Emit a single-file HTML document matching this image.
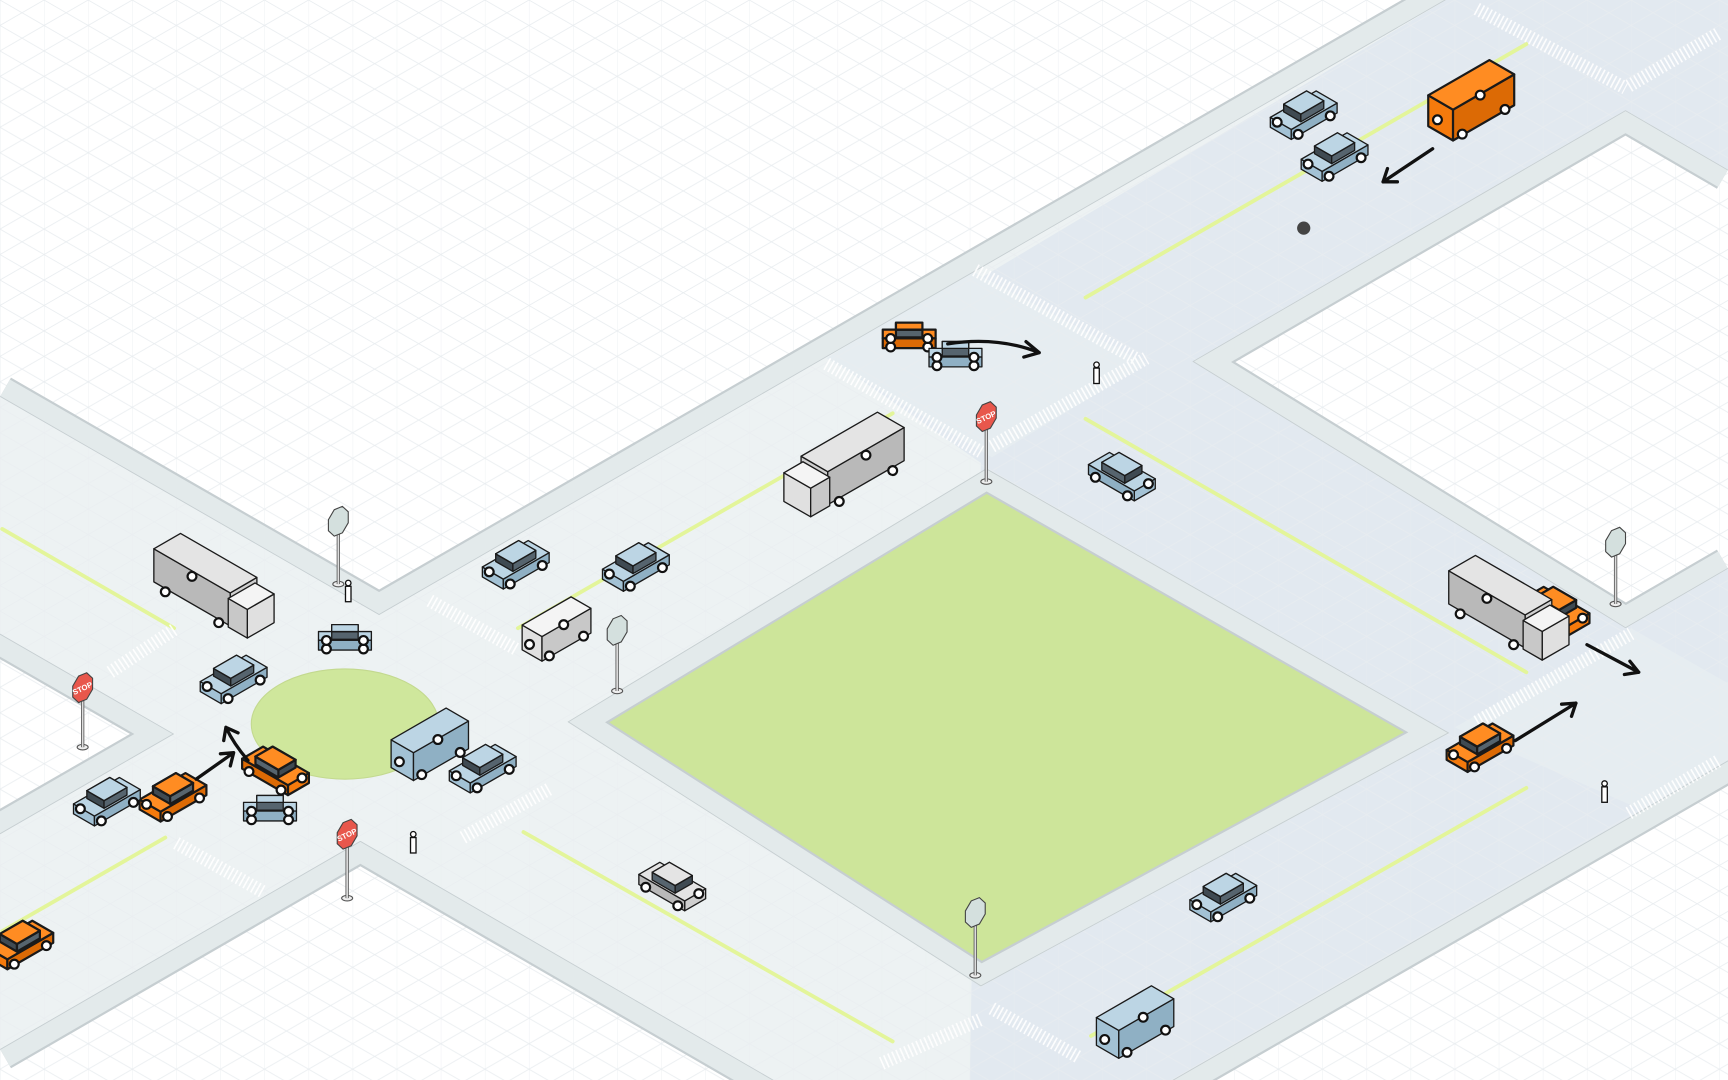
<!DOCTYPE html>
<html><head><meta charset="utf-8"><style>
html,body{margin:0;padding:0;background:#fff;overflow:hidden;width:1728px;height:1080px}
svg{display:block;overflow:hidden}
text{font-family:"Liberation Sans",sans-serif}
</style></head><body>
<svg id="s" width="1728" height="1080" viewBox="0 0 1568 980" preserveAspectRatio="none" xmlns="http://www.w3.org/2000/svg">
<defs>
<pattern id="grid" width="40" height="46.2" patternUnits="userSpaceOnUse">
<path d="M0 0 L40 23.1 M0 23.1 L40 46.2 M0 23.1 L40 0 M0 46.2 L40 23.1 M0 -23.1 L40 0 M0 0V46.2" stroke="#e9edf0" stroke-width="0.7" fill="none"/>
</pattern>
<clipPath id="c1"><polygon points="0,0 1312,0 344,558 0,360"/></clipPath>
<clipPath id="c2"><polygon points="0,575 158,666 0,757"/></clipPath>
<clipPath id="c3"><polygon points="0,952 327,763 702,980 0,980"/></clipPath>
<clipPath id="c4"><polygon points="515,655 895,425 1315,665 890,895"/></clipPath>
<clipPath id="c5"><polygon points="1082,328 1475,100 1568,154 1568,516 1475,570"/></clipPath>
<clipPath id="c6"><polygon points="1064,980 1490,735 1568,690 1568,980"/></clipPath>
<clipPath id="frame"><rect width="1568" height="980"/></clipPath>
</defs>
<g clip-path="url(#frame)">
<rect width="1568" height="980" fill="#edf2f3"/>
<polygon points="760,330 1312,0 1568,0 1568,980 880,980 890,420" fill="#e2e9f0"/>
<polygon points="750,325 880,245 1040,330 900,415" fill="#e6edf1"/>
<polygon points="1320,660 1480,570 1568,620 1568,690 1490,735" fill="#e6edf1"/>
<rect width="1568" height="980" fill="url(#grid)" opacity="0.8"/>
<g id="blocks"></g>
<g fill="none" stroke="#e3f59a" stroke-width="3.5" stroke-linecap="round">
<line x1="470" y1="570" x2="810" y2="375"/>
<line x1="985" y1="270" x2="1385" y2="40"/>
<line x1="2" y1="480" x2="158" y2="570"/>
<line x1="475" y1="755" x2="810" y2="945"/>
<line x1="985" y1="380" x2="1385" y2="610"/>
<line x1="990" y1="940" x2="1385" y2="715"/>
<line x1="2" y1="845" x2="150" y2="760"/>
</g>
<g fill="none" stroke="#ffffff" stroke-width="12" stroke-dasharray="1.5 2.5" opacity="0.9">
<line x1="750" y1="330" x2="890" y2="410"/>
<line x1="885" y1="245" x2="1030" y2="325"/>
<line x1="900" y1="405" x2="1040" y2="325"/>
<line x1="1340" y1="655" x2="1480" y2="575"/>
<line x1="1478" y1="738" x2="1560" y2="690"/>
<line x1="1340" y1="8" x2="1475" y2="80"/>
<line x1="1478" y1="78" x2="1560" y2="30"/>
<line x1="390" y1="545" x2="470" y2="590"/>
<line x1="100" y1="610" x2="160" y2="570"/>
<line x1="160" y1="765" x2="240" y2="810"/>
<line x1="420" y1="760" x2="500" y2="715"/>
<line x1="800" y1="965" x2="890" y2="925"/>
<line x1="900" y1="915" x2="980" y2="960"/>
</g>
<ellipse cx="313" cy="657" rx="85" ry="50" fill="#cfe79c" stroke="#c3d98f" stroke-width="1"/>
<circle cx="1183" cy="207" r="6" fill="#444"/>
<g id="objs"></g>
<g fill="none" stroke="#111" stroke-width="3" stroke-linecap="round" stroke-linejoin="round">
<path d="M1300 135 L1255 165 M1255 165 l4 -12 M1255 165 l13 0"/>
<path d="M860 312 Q905 305 943 320 M943 320 l-12 -10 M943 320 l-14 4"/>
<path d="M1440 585 L1487 610 M1487 610 l-8 -10 M1487 610 l-13 2"/>
<path d="M1375 672 L1430 638 M1430 638 l-13 1 M1430 638 l-4 12"/>
<path d="M178 707 L212 683 M212 683 l-12 1 M212 683 l-3 12"/>
<path d="M225 690 Q212 675 205 660 M205 660 l-2 12 M205 660 l11 5"/>
</g>
<g id="signs"></g>
<g id="stoptext" font-size="7" font-weight="bold" fill="#fff" text-anchor="middle">
<text x="895" y="381" transform="rotate(-25 895 379)">STOP</text>
<text x="75" y="627" transform="rotate(-25 75 625)">STOP</text>
<text x="315" y="760" transform="rotate(-25 315 758)">STOP</text>
</g>
</g>
</svg>
<script>
var NS="http://www.w3.org/2000/svg";
function el(t,a,p){var e=document.createElementNS(NS,t);for(var k in a)e.setAttribute(k,a[k]);(p||document.getElementById('objs')).appendChild(e);return e;}
var B=document.getElementById('blocks');
var polys=[
["0,0 1312,0 344,558 0,360","1312,0 344,558 0,360","c1","#fff"],
["0,575 158,666 0,757","0,575 158,666 0,757","c2","#fff"],
["0,952 327,763 702,980 0,980","0,952 327,763 702,980","c3","#fff"],
["515,655 895,425 1315,665 890,895","515,655 895,425 1315,665 890,895 515,655","c4","#cde59a"],
["1082,328 1475,100 1568,154 1568,516 1475,570","1568,154 1475,100 1082,328 1475,570 1568,516","c5","#fff"],
["1064,980 1490,735 1568,690 1568,980","1064,980 1490,735 1568,690","c6","#fff"]];
polys.forEach(function(p){var g=el('g',{'clip-path':'url(#'+p[2]+')'},B);
el('polygon',{points:p[0],fill:p[3],stroke:'none'},g);
if(p[3]=='#fff')el('polygon',{points:p[0],fill:'url(#grid)',stroke:'none'},g);
el('polyline',{points:p[1],fill:'none',stroke:'#c6ced1','stroke-width':40,'stroke-linejoin':'round'},g);
el('polyline',{points:p[1],fill:'none',stroke:'#e3eaeb','stroke-width':36,'stroke-linejoin':'round'},g);
el('polyline',{points:p[1],fill:'none',stroke:'#c6ced1','stroke-width':1.5},g);
});
var DIR={ne:[[0.866,-0.5],[0.866,0.5]],nw:[[0.866,0.5],[-0.866,0.5]],x:[[1,0],[0,0.35]]};
function pts(a){return a.map(function(p){return p[0].toFixed(1)+','+p[1].toFixed(1)}).join(' ')}
function box(cx,cy,l,w,h,z,d,cols,sw,parent){
 var A=DIR[d][0],Bv=DIR[d][1];
 function c(s,t,zz){return [cx+s*l*A[0]+t*w*Bv[0], cy+s*l*A[1]+t*w*Bv[1]-zz];}
 var faces=[[[1,0],[[1,-1],[1,1]]],[[-1,0],[[-1,1],[-1,-1]]],[[0,1],[[1,1],[-1,1]]],[[0,-1],[[-1,-1],[1,-1]]]];
 faces.forEach(function(f,i){var n=f[0];var ny=n[0]*A[1]+n[1]*Bv[1];if(ny>0.01||(ny>-0.01&&n[1]>0)){var p=f[1];
  el('polygon',{points:pts([c(p[0][0],p[0][1],z),c(p[1][0],p[1][1],z),c(p[1][0],p[1][1],z+h),c(p[0][0],p[0][1],z+h)]),fill:(n[0]!=0?cols[1]:cols[2]),stroke:'#1a1a1a','stroke-width':sw,'stroke-linejoin':'round'},parent);}});
 el('polygon',{points:pts([c(-1,-1,z+h),c(1,-1,z+h),c(1,1,z+h),c(-1,1,z+h)]),fill:cols[0],stroke:'#1a1a1a','stroke-width':sw,'stroke-linejoin':'round'},parent);
 return c;
}
var PAL={blue:['#bcd5e4','#a3c2d5','#8fb0c4'],orange:['#ff8c22','#f57a0c','#dc6a05'],white:['#f4f4f4','#e0e0e0','#c8c8c8'],grey:['#e4e4e4','#cfcfcf','#b9b9b9']};
function wheels(c,g){[[-0.7,1],[0.7,1],[-0.7,-1],[0.7,-1]].forEach(function(q){var p=c(q[0],q[1],0);el('circle',{cx:p[0],cy:p[1]-3,r:4,fill:'#fff',stroke:'#111','stroke-width':2},g);});}
function car(x,y,d,col){var g=el('g',{});var sw=col=='orange'?2:1.2;var c=box(x,y+6,24,11,9,2,d,PAL[col],sw,g);wheels(c,g);
 box(x,y+6,12,9,7,11,d,['#5d6b75','#3f4a52','#56646e'],sw,g);
 box(x,y+6,12,9,0.01,18,d,[PAL[col][0],PAL[col][0],PAL[col][0]],sw,g);}
function van(x,y,d,col,s){s=s||1;var g=el('g',{});var sw=col=='orange'?2:1.2;var c=box(x,y+12,32*s,13*s,28*s,2,d,PAL[col],sw,g);wheels(c,g);}
function truck(x,y,d,flip){var g=el('g',{});var A=DIR[d][0];var f=flip?-1:1;
 var c=box(x-f*10*A[0],y+12-f*10*A[1],40,14,30,6,d,PAL.grey,1.2,g);wheels(c,g);
 box(x+f*38*A[0],y+12+f*38*A[1],10,14,26,4,d,PAL.white,1.2,g);}
var list=[
['car',1183,105,'ne','blue'],['car',1211,143,'ne','blue'],['van',1335,95,'ne','orange'],
['car',825,308,'x','orange'],['car',867,325,'x','blue'],['car',1018,433,'nw','blue'],
['truck',765,430,'ne',1],['car',468,513,'ne','blue'],['car',577,515,'ne','blue'],
['truck',195,540,'nw',0],['car',313,582,'x','blue'],['car',212,617,'ne','blue'],
['van',505,572,'ne','white',0.8],['car',97,728,'ne','blue'],['car',157,724,'ne','orange'],
['car',250,700,'nw','orange'],['car',245,737,'x','blue'],['van',390,678,'ne','blue',0.9],
['car',438,698,'ne','blue'],['car',610,805,'nw','grey'],['car',1110,815,'ne','blue'],
['van',1030,930,'ne','blue',0.9],['car',1343,679,'ne','orange'],['car',1412,555,'nw','orange'],
['truck',1370,560,'nw',0],['car',18,858,'ne','orange']];
list.sort(function(a,b){return a[2]-b[2]});
list.forEach(function(o){if(o[0]=='car')car(o[1],o[2],o[3],o[4]);else if(o[0]=='van')van(o[1],o[2],o[3],o[4],o[5]);else truck(o[1],o[2],o[3],o[4]);});
var S=document.getElementById('signs');
function pole(x,y1,y2){el('ellipse',{cx:x,cy:y2,rx:5,ry:2.5,fill:'#eee',stroke:'#555','stroke-width':1},S);el('line',{x1:x,y1:y1,x2:x,y2:y2,stroke:'#555','stroke-width':3},S);el('line',{x1:x,y1:y1,x2:x,y2:y2,stroke:'#ddd','stroke-width':1.5},S);}
function oct(x,y,r,fill){var p=[];for(var i=0;i<8;i++){var a=Math.PI/8+i*Math.PI/4;p.push([x+r*0.75*Math.cos(a),y+r*Math.sin(a)-0.3*r*Math.cos(a)]);}el('polygon',{points:pts(p),fill:fill,stroke:'#444','stroke-width':1},S);}
[[895,378,437,'#e8574c'],[75,624,678,'#e8574c'],[315,757,815,'#e8574c'],[307,473,530,'#d4e0de'],[560,572,627,'#d4e0de'],[1466,492,548,'#d4e0de'],[885,828,885,'#d4e0de']].forEach(function(s){pole(s[0],s[1],s[2]);oct(s[0],s[1],13,s[3]);});
[[995,342],[316,540],[375,768],[1456,722]].forEach(function(p){el('rect',{x:p[0]-2.5,y:p[1]-8,width:5,height:14,fill:'#fff',stroke:'#111','stroke-width':1.2},S);el('circle',{cx:p[0],cy:p[1]-11,r:2.5,fill:'#fff',stroke:'#111','stroke-width':1.2},S);});
S.parentNode.appendChild(document.getElementById('stoptext'));
</script>
</body></html>
